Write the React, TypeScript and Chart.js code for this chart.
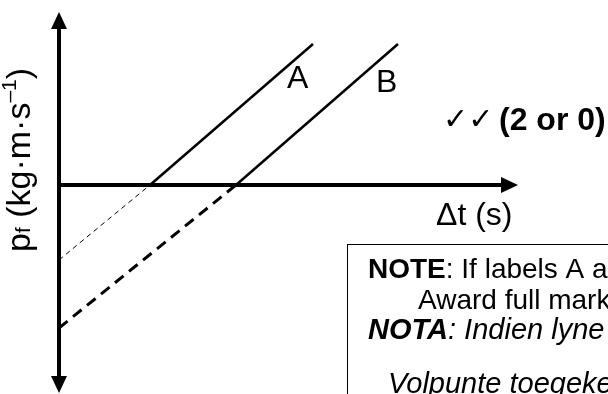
import React, { useEffect, useRef } from "react";
import { Chart, registerables } from "chart.js";

Chart.register(...registerables);

// Momentum-time sketch: two parallel lines A and B, extrapolated back to the p-axis.
const lineASolid = [
  { x: 1.82, y: 0 },
  { x: 5.08, y: 2.82 },
];
const lineAExtension = [
  { x: 0, y: -1.5 },
  { x: 1.82, y: 0 },
];
const lineBSolid = [
  { x: 3.54, y: 0 },
  { x: 6.78, y: 2.82 },
];
const lineBExtension = [
  { x: 0, y: -2.86 },
  { x: 3.54, y: 0 },
];
const timeAxis = [
  { x: 0, y: 0 },
  { x: 9.06, y: 0 },
];
const momentumAxis = [
  { x: 0, y: -4.04 },
  { x: 0, y: 3.34 },
];
const lineLabels = ["A", "B"];
const timeAxisTitle = "Δt (s)";
const markText = ["✓✓", "(2 or 0)"];
const noteLines = [
  { bold: "NOTE", rest: ": If labels A and B are swapped:", italic: false },
  { bold: "", rest: "Award full marks if lines are parallel.", italic: false },
  { bold: "NOTA", rest: ": Indien lyne A en B omgeruil is:", italic: true },
  { bold: "", rest: "Volpunte toegeken indien lyne ewewydig is.", italic: true },
];

const FONT = "'Liberation Sans', Arial, 'DejaVu Sans', sans-serif";

const sketchPlugin = {
  id: "sketchDecor",
  afterDatasetsDraw(chart: any) {
    const ctx = chart.ctx as CanvasRenderingContext2D;
    const xs = chart.scales.x;
    const ys = chart.scales.y;
    const px = (v: number) => xs.getPixelForValue(v);
    const py = (v: number) => ys.getPixelForValue(v);

    ctx.save();
    ctx.fillStyle = "#000";

    // arrowheads just past the axis ends
    const arrow = (ex: number, ey: number, dx: number, dy: number) => {
      const len = 17;
      const half = 8;
      const tx = ex + dx * 6;
      const ty = ey + dy * 6;
      const bx = tx - dx * len;
      const by = ty - dy * len;
      ctx.beginPath();
      ctx.moveTo(tx, ty);
      ctx.lineTo(bx - dy * half, by + dx * half);
      ctx.lineTo(bx + dy * half, by - dx * half);
      ctx.closePath();
      ctx.fill();
    };
    const x0 = px(momentumAxis[0].x);
    arrow(x0, py(momentumAxis[1].y), 0, -1);
    arrow(x0, py(momentumAxis[0].y), 0, 1);
    arrow(px(timeAxis[1].x), py(0), 1, 0);

    // line labels
    ctx.textBaseline = "alphabetic";
    ctx.textAlign = "left";
    ctx.font = `32px ${FONT}`;
    ctx.fillText(lineLabels[0], 287, 88);
    ctx.fillText(lineLabels[1], 376, 92);

    // mark allocation
    ctx.font = `30px 'DejaVu Sans', ${FONT}`;
    ctx.fillText(markText[0], 443, 129);
    ctx.font = `bold 32px ${FONT}`;
    ctx.fillText(markText[1], 499, 130);

    // time axis title
    ctx.font = `32px ${FONT}`;
    ctx.fillText(timeAxisTitle, 436, 225);

    // momentum axis title, rotated
    ctx.save();
    ctx.translate(30, 252);
    ctx.rotate(-Math.PI / 2);
    let cx = 0;
    const seg = (t: string, size: number, dy: number) => {
      ctx.font = `${size}px ${FONT}`;
      ctx.fillText(t, cx, dy);
      cx += ctx.measureText(t).width;
    };
    seg("p", 34, 0);
    seg("f", 21, 0);
    seg(" (kg·m·s", 34, 0);
    seg("–1", 21, -14);
    seg(")", 34, 0);
    ctx.restore();

    // note box
    ctx.strokeStyle = "#000";
    ctx.lineWidth = 1;
    ctx.strokeRect(347.5, 244.5, 400, 300);
    const starts = [368, 418, 368, 388];
    const baselines = [278, 309, 339, 393];
    noteLines.forEach((ln, i) => {
      let x = starts[i];
      const style = ln.italic ? "italic " : "";
      const size = ln.italic ? 29 : 28;
      if (ln.bold) {
        ctx.font = `${style}bold ${size}px ${FONT}`;
        ctx.fillText(ln.bold, x, baselines[i]);
        x += ctx.measureText(ln.bold).width;
      }
      ctx.font = `${style}${size}px ${FONT}`;
      ctx.fillText(ln.rest, x, baselines[i]);
    });

    ctx.restore();
  },
};

export default function App() {
  const canvasRef = useRef<HTMLCanvasElement | null>(null);

  useEffect(() => {
    if (!canvasRef.current) return;
    const line = (data: any[], width: number, dash: number[] = []) => ({
      data,
      borderColor: "#000",
      borderWidth: width,
      borderDash: dash,
      borderCapStyle: "butt",
      pointRadius: 0,
      tension: 0,
      fill: false,
    });
    const chart = new Chart(canvasRef.current, {
      type: "line",
      data: {
        datasets: [
          line(momentumAxis, 4),
          line(timeAxis, 4),
          line(lineASolid, 2.5),
          line(lineBSolid, 2.5),
          line(lineAExtension, 1, [5, 4]),
          line(lineBExtension, 3, [11, 7]),
        ] as any,
      },
      options: {
        animation: false,
        responsive: false,
        layout: { padding: 0 },
        plugins: { legend: { display: false }, tooltip: { enabled: false } },
        scales: {
          x: { type: "linear", min: -1.18, max: 10.98, display: false },
          y: { type: "linear", min: -4.18, max: 3.7, display: false },
        },
      },
      plugins: [sketchPlugin],
    });
    return () => chart.destroy();
  }, []);

  return (
    <div style={{ position: "fixed", left: 0, top: 0, width: 608, height: 394, background: "#fff" }}>
      <canvas ref={canvasRef} width={608} height={394} />
    </div>
  );
}
